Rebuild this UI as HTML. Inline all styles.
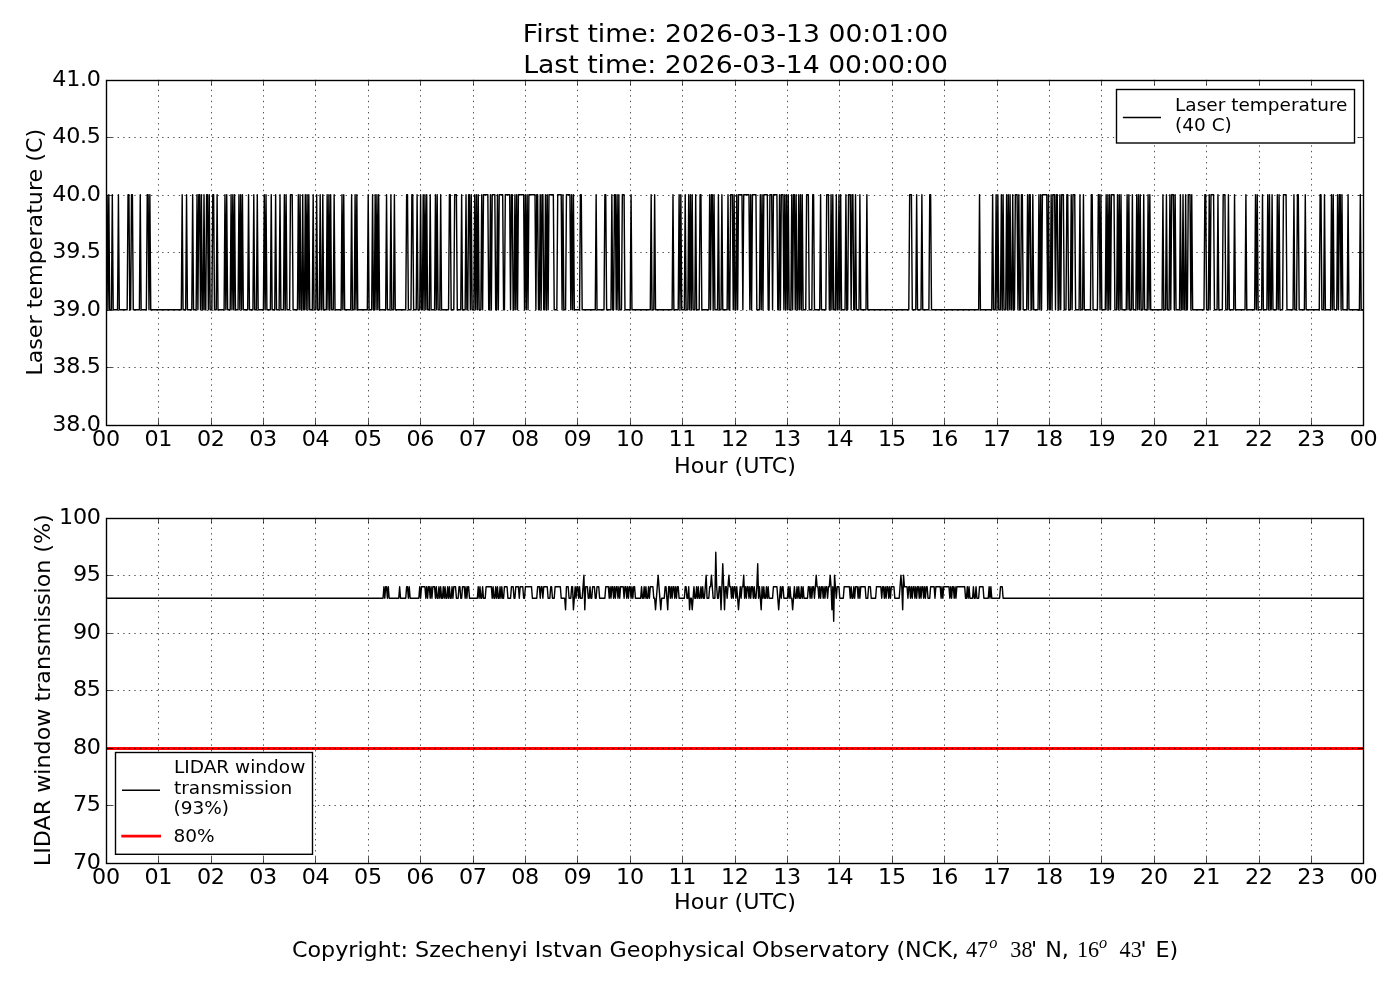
<!DOCTYPE html>
<html><head><meta charset="utf-8"><title>LIDAR status</title>
<style>
html,body{margin:0;padding:0;background:#fff;}
svg{display:block;}
text{font-family:"DejaVu Sans", "Liberation Sans", sans-serif;fill:#000;}
.tl{font-size:22.22px;letter-spacing:-0.3px;}
.lab{font-size:22.22px;}
.title{font-size:26.67px;}
.leg{font-size:18.52px;}
.grid{stroke:#000;stroke-width:0.69;stroke-dasharray:1.39 4.17;fill:none;}
.tick{stroke:#000;stroke-width:0.69;fill:none;}
.frame{stroke:#000;stroke-width:1.39;fill:none;}
.sig{stroke:#000;stroke-width:1.42;fill:none;stroke-linejoin:round;}
.legl{stroke:#000;stroke-width:1.39;fill:none;}
.red{stroke:#f00;stroke-width:2.78;fill:none;}
.legbox{stroke:#000;stroke-width:1.39;fill:#fff;}
.math{font-family:"Liberation Serif","DejaVu Serif",serif;}
</style></head><body>
<svg width="1400" height="1000" viewBox="0 0 1400 1000">
<rect width="1400" height="1000" fill="#fff"/>
<clipPath id="c1"><rect x="106.5" y="79.85" width="1257.0" height="344.85"/></clipPath>
<polyline class="sig" clip-path="url(#c1)" points="107.07,194.80 107.95,309.75 108.82,194.80 109.69,309.75 110.57,309.75 111.44,309.75 112.31,194.80 113.19,309.75 114.06,309.75 114.93,309.75 115.81,309.75 116.68,309.75 117.55,309.75 118.43,194.80 119.30,309.75 120.17,309.75 121.05,309.75 121.92,309.75 122.79,309.75 123.67,309.75 124.54,309.75 125.41,309.75 126.29,309.75 127.16,309.75 128.03,194.80 128.91,194.80 129.78,309.75 130.65,309.75 131.53,194.80 132.40,194.80 133.27,309.75 134.15,309.75 135.02,309.75 135.89,309.75 136.77,309.75 137.64,309.75 138.51,309.75 139.39,309.75 140.26,194.80 141.13,309.75 142.01,309.75 142.88,309.75 143.75,309.75 144.63,309.75 145.50,309.75 146.37,309.75 147.25,194.80 148.12,194.80 148.99,309.75 149.87,194.80 150.74,309.75 151.61,309.75 152.49,309.75 153.36,309.75 154.23,309.75 155.11,309.75 155.98,309.75 156.85,309.75 157.73,309.75 158.60,309.75 159.47,309.75 160.35,309.75 161.22,309.75 162.09,309.75 162.97,309.75 163.84,309.75 164.71,309.75 165.59,309.75 166.46,309.75 167.33,309.75 168.21,309.75 169.08,309.75 169.95,309.75 170.83,309.75 171.70,309.75 172.57,309.75 173.45,309.75 174.32,309.75 175.19,309.75 176.07,309.75 176.94,309.75 177.81,309.75 178.69,309.75 179.56,309.75 180.43,309.75 181.31,309.75 182.18,194.80 183.05,309.75 183.93,309.75 184.80,309.75 185.67,309.75 186.55,194.80 187.42,309.75 188.29,309.75 189.17,309.75 190.04,309.75 190.91,309.75 191.79,309.75 192.66,194.80 193.53,309.75 194.41,309.75 195.28,309.75 196.15,309.75 197.03,194.80 197.90,309.75 198.77,194.80 199.65,194.80 200.52,309.75 201.39,194.80 202.27,309.75 203.14,309.75 204.01,194.80 204.89,309.75 205.76,309.75 206.63,194.80 207.51,194.80 208.38,309.75 209.25,194.80 210.13,309.75 211.00,309.75 211.87,309.75 212.75,194.80 213.62,194.80 214.49,309.75 215.37,309.75 216.24,309.75 217.11,194.80 217.99,309.75 218.86,309.75 219.73,309.75 220.61,309.75 221.48,309.75 222.35,309.75 223.23,309.75 224.10,309.75 224.97,194.80 225.85,309.75 226.72,194.80 227.59,309.75 228.47,309.75 229.34,309.75 230.21,309.75 231.09,194.80 231.96,309.75 232.83,194.80 233.71,309.75 234.58,194.80 235.45,309.75 236.33,309.75 237.20,309.75 238.07,309.75 238.95,194.80 239.82,309.75 240.69,194.80 241.57,309.75 242.44,194.80 243.31,309.75 244.19,309.75 245.06,309.75 245.93,309.75 246.81,309.75 247.68,309.75 248.55,194.80 249.43,309.75 250.30,309.75 251.17,309.75 252.05,309.75 252.92,309.75 253.79,194.80 254.67,309.75 255.54,309.75 256.41,309.75 257.29,194.80 258.16,309.75 259.03,309.75 259.91,309.75 260.78,309.75 261.65,309.75 262.53,309.75 263.40,309.75 264.27,194.80 265.15,309.75 266.02,194.80 266.89,309.75 267.77,309.75 268.64,309.75 269.51,309.75 270.39,309.75 271.26,194.80 272.13,309.75 273.01,309.75 273.88,309.75 274.75,309.75 275.63,194.80 276.50,309.75 277.37,309.75 278.25,309.75 279.12,309.75 279.99,194.80 280.87,309.75 281.74,309.75 282.61,309.75 283.49,309.75 284.36,194.80 285.23,309.75 286.11,194.80 286.98,309.75 287.85,309.75 288.73,309.75 289.60,309.75 290.47,194.80 291.35,194.80 292.22,194.80 293.09,309.75 293.97,309.75 294.84,309.75 295.71,309.75 296.59,309.75 297.46,309.75 298.33,194.80 299.21,309.75 300.08,194.80 300.95,309.75 301.83,309.75 302.70,194.80 303.57,309.75 304.45,309.75 305.32,194.80 306.19,309.75 307.07,194.80 307.94,309.75 308.81,194.80 309.69,309.75 310.56,309.75 311.43,309.75 312.31,309.75 313.18,194.80 314.05,309.75 314.93,309.75 315.80,309.75 316.67,194.80 317.55,309.75 318.42,309.75 319.29,309.75 320.17,194.80 321.04,309.75 321.91,309.75 322.79,194.80 323.66,309.75 324.53,309.75 325.41,309.75 326.28,309.75 327.15,194.80 328.03,309.75 328.90,194.80 329.77,309.75 330.65,194.80 331.52,309.75 332.39,309.75 333.27,309.75 334.14,194.80 335.01,309.75 335.89,309.75 336.76,309.75 337.63,309.75 338.51,309.75 339.38,309.75 340.25,309.75 341.13,309.75 342.00,194.80 342.87,309.75 343.75,194.80 344.62,309.75 345.49,309.75 346.37,309.75 347.24,309.75 348.11,309.75 348.99,309.75 349.86,309.75 350.73,309.75 351.61,194.80 352.48,309.75 353.35,309.75 354.23,309.75 355.10,194.80 355.97,309.75 356.85,194.80 357.72,309.75 358.59,309.75 359.47,309.75 360.34,309.75 361.21,309.75 362.09,309.75 362.96,309.75 363.83,309.75 364.71,309.75 365.58,309.75 366.45,309.75 367.33,309.75 368.20,194.80 369.07,309.75 369.95,309.75 370.82,309.75 371.69,309.75 372.57,194.80 373.44,309.75 374.31,309.75 375.19,194.80 376.06,309.75 376.93,194.80 377.81,309.75 378.68,194.80 379.55,309.75 380.43,309.75 381.30,309.75 382.17,309.75 383.05,309.75 383.92,309.75 384.79,309.75 385.67,309.75 386.54,194.80 387.41,309.75 388.29,309.75 389.16,309.75 390.03,309.75 390.91,194.80 391.78,309.75 392.65,309.75 393.53,309.75 394.40,194.80 395.27,309.75 396.15,309.75 397.02,309.75 397.89,309.75 398.77,309.75 399.64,309.75 400.51,309.75 401.39,309.75 402.26,309.75 403.13,309.75 404.01,309.75 404.88,309.75 405.75,309.75 406.63,194.80 407.50,194.80 408.37,309.75 409.25,309.75 410.12,309.75 410.99,309.75 411.87,194.80 412.74,194.80 413.61,309.75 414.49,309.75 415.36,309.75 416.23,309.75 417.11,194.80 417.98,309.75 418.85,309.75 419.73,309.75 420.60,194.80 421.47,309.75 422.35,309.75 423.22,194.80 424.09,309.75 424.97,194.80 425.84,309.75 426.71,194.80 427.59,309.75 428.46,309.75 429.33,309.75 430.21,194.80 431.08,309.75 431.95,309.75 432.83,309.75 433.70,309.75 434.57,309.75 435.45,194.80 436.32,309.75 437.19,194.80 438.07,309.75 438.94,309.75 439.81,309.75 440.69,194.80 441.56,309.75 442.43,309.75 443.31,309.75 444.18,309.75 445.05,309.75 445.93,309.75 446.80,309.75 447.67,309.75 448.55,309.75 449.42,194.80 450.29,194.80 451.17,309.75 452.04,309.75 452.91,309.75 453.79,309.75 454.66,194.80 455.53,194.80 456.41,194.80 457.28,309.75 458.15,309.75 459.03,309.75 459.90,309.75 460.77,309.75 461.65,194.80 462.52,309.75 463.39,309.75 464.27,309.75 465.14,309.75 466.01,194.80 466.89,309.75 467.76,309.75 468.63,194.80 469.51,194.80 470.38,309.75 471.25,194.80 472.13,309.75 473.00,309.75 473.87,309.75 474.75,194.80 475.62,309.75 476.49,194.80 477.37,309.75 478.24,194.80 479.11,309.75 479.99,309.75 480.86,309.75 481.73,194.80 482.61,309.75 483.48,194.80 484.35,194.80 485.23,194.80 486.10,194.80 486.97,194.80 487.85,194.80 488.72,309.75 489.59,309.75 490.47,194.80 491.34,309.75 492.21,194.80 493.09,194.80 493.96,194.80 494.83,194.80 495.71,309.75 496.58,309.75 497.45,194.80 498.33,309.75 499.20,194.80 500.07,194.80 500.95,194.80 501.82,194.80 502.69,194.80 503.57,309.75 504.44,309.75 505.31,194.80 506.19,194.80 507.06,194.80 507.93,194.80 508.81,194.80 509.68,194.80 510.55,309.75 511.43,194.80 512.30,194.80 513.17,309.75 514.05,309.75 514.92,194.80 515.79,309.75 516.67,194.80 517.54,309.75 518.41,194.80 519.29,194.80 520.16,194.80 521.03,194.80 521.91,194.80 522.78,194.80 523.65,194.80 524.53,309.75 525.40,194.80 526.27,309.75 527.15,194.80 528.02,309.75 528.89,194.80 529.77,194.80 530.64,194.80 531.51,194.80 532.39,194.80 533.26,194.80 534.13,194.80 535.01,194.80 535.88,309.75 536.75,194.80 537.63,194.80 538.50,309.75 539.37,309.75 540.25,194.80 541.12,309.75 541.99,194.80 542.87,194.80 543.74,309.75 544.61,309.75 545.49,194.80 546.36,309.75 547.23,194.80 548.11,309.75 548.98,194.80 549.85,194.80 550.73,194.80 551.60,194.80 552.47,194.80 553.35,194.80 554.22,309.75 555.09,309.75 555.97,309.75 556.84,309.75 557.71,194.80 558.59,194.80 559.46,194.80 560.33,194.80 561.21,194.80 562.08,309.75 562.95,194.80 563.83,309.75 564.70,309.75 565.57,309.75 566.45,194.80 567.32,194.80 568.19,194.80 569.07,194.80 569.94,194.80 570.81,309.75 571.69,194.80 572.56,309.75 573.43,194.80 574.31,309.75 575.18,309.75 576.05,309.75 576.93,309.75 577.80,309.75 578.67,309.75 579.55,309.75 580.42,194.80 581.29,194.80 582.17,309.75 583.04,309.75 583.91,309.75 584.79,309.75 585.66,309.75 586.53,309.75 587.41,309.75 588.28,309.75 589.15,309.75 590.03,309.75 590.90,309.75 591.77,309.75 592.65,309.75 593.52,309.75 594.39,309.75 595.27,309.75 596.14,194.80 597.01,309.75 597.89,309.75 598.76,309.75 599.63,309.75 600.51,309.75 601.38,309.75 602.25,309.75 603.13,309.75 604.00,309.75 604.87,194.80 605.75,194.80 606.62,309.75 607.49,309.75 608.37,309.75 609.24,309.75 610.11,309.75 610.99,309.75 611.86,194.80 612.73,309.75 613.61,309.75 614.48,194.80 615.35,194.80 616.23,309.75 617.10,194.80 617.97,309.75 618.85,194.80 619.72,309.75 620.59,309.75 621.47,309.75 622.34,194.80 623.21,194.80 624.09,194.80 624.96,309.75 625.83,309.75 626.71,309.75 627.58,309.75 628.45,309.75 629.33,309.75 630.20,309.75 631.07,194.80 631.95,309.75 632.82,309.75 633.69,309.75 634.57,309.75 635.44,309.75 636.31,309.75 637.19,309.75 638.06,309.75 638.93,309.75 639.81,309.75 640.68,309.75 641.55,309.75 642.43,309.75 643.30,309.75 644.17,309.75 645.05,309.75 645.92,309.75 646.79,309.75 647.67,309.75 648.54,309.75 649.41,309.75 650.29,309.75 651.16,194.80 652.03,309.75 652.91,309.75 653.78,309.75 654.65,194.80 655.53,309.75 656.40,309.75 657.27,309.75 658.15,309.75 659.02,309.75 659.89,309.75 660.77,309.75 661.64,309.75 662.51,309.75 663.39,309.75 664.26,309.75 665.13,309.75 666.01,309.75 666.88,309.75 667.75,309.75 668.63,309.75 669.50,309.75 670.37,309.75 671.25,309.75 672.12,309.75 672.99,194.80 673.87,309.75 674.74,309.75 675.61,309.75 676.49,309.75 677.36,309.75 678.23,309.75 679.11,194.80 679.98,309.75 680.85,194.80 681.73,309.75 682.60,309.75 683.47,309.75 684.35,309.75 685.22,194.80 686.09,309.75 686.97,309.75 687.84,309.75 688.71,194.80 689.59,309.75 690.46,194.80 691.33,309.75 692.21,194.80 693.08,309.75 693.95,309.75 694.83,309.75 695.70,194.80 696.57,309.75 697.45,309.75 698.32,309.75 699.19,309.75 700.07,194.80 700.94,194.80 701.81,309.75 702.69,309.75 703.56,309.75 704.43,309.75 705.31,309.75 706.18,309.75 707.05,309.75 707.93,309.75 708.80,309.75 709.67,194.80 710.55,309.75 711.42,194.80 712.29,194.80 713.17,309.75 714.04,194.80 714.91,309.75 715.79,309.75 716.66,309.75 717.53,309.75 718.41,194.80 719.28,309.75 720.15,309.75 721.03,309.75 721.90,194.80 722.77,309.75 723.65,309.75 724.52,309.75 725.39,309.75 726.27,309.75 727.14,309.75 728.01,194.80 728.89,309.75 729.76,309.75 730.63,194.80 731.51,194.80 732.38,194.80 733.25,309.75 734.13,194.80 735.00,309.75 735.87,309.75 736.75,194.80 737.62,309.75 738.49,194.80 739.37,194.80 740.24,194.80 741.11,194.80 741.99,194.80 742.86,309.75 743.73,194.80 744.61,194.80 745.48,194.80 746.35,194.80 747.23,194.80 748.10,194.80 748.97,194.80 749.85,309.75 750.72,194.80 751.59,309.75 752.47,194.80 753.34,194.80 754.21,194.80 755.09,194.80 755.96,194.80 756.83,309.75 757.71,309.75 758.58,309.75 759.45,309.75 760.33,194.80 761.20,309.75 762.07,194.80 762.95,309.75 763.82,194.80 764.69,194.80 765.57,194.80 766.44,194.80 767.31,194.80 768.19,309.75 769.06,309.75 769.93,194.80 770.81,194.80 771.68,194.80 772.55,309.75 773.43,194.80 774.30,194.80 775.17,194.80 776.05,194.80 776.92,194.80 777.79,309.75 778.67,309.75 779.54,194.80 780.41,309.75 781.29,194.80 782.16,194.80 783.03,194.80 783.91,309.75 784.78,194.80 785.65,309.75 786.53,194.80 787.40,309.75 788.27,194.80 789.15,309.75 790.02,309.75 790.89,309.75 791.77,194.80 792.64,309.75 793.51,194.80 794.39,194.80 795.26,309.75 796.13,194.80 797.01,309.75 797.88,309.75 798.75,194.80 799.63,309.75 800.50,194.80 801.37,309.75 802.25,194.80 803.12,309.75 803.99,309.75 804.87,309.75 805.74,309.75 806.61,194.80 807.49,194.80 808.36,194.80 809.23,309.75 810.11,309.75 810.98,309.75 811.85,309.75 812.73,194.80 813.60,194.80 814.47,309.75 815.35,309.75 816.22,309.75 817.09,309.75 817.97,309.75 818.84,309.75 819.71,309.75 820.59,194.80 821.46,309.75 822.33,309.75 823.21,309.75 824.08,309.75 824.95,309.75 825.83,309.75 826.70,194.80 827.57,194.80 828.45,194.80 829.32,309.75 830.19,309.75 831.07,194.80 831.94,309.75 832.81,194.80 833.69,309.75 834.56,309.75 835.43,309.75 836.31,194.80 837.18,309.75 838.05,309.75 838.93,194.80 839.80,309.75 840.67,194.80 841.55,309.75 842.42,309.75 843.29,309.75 844.17,309.75 845.04,309.75 845.91,194.80 846.79,309.75 847.66,309.75 848.53,194.80 849.41,194.80 850.28,194.80 851.15,309.75 852.03,194.80 852.90,194.80 853.77,309.75 854.65,309.75 855.52,194.80 856.39,309.75 857.27,309.75 858.14,309.75 859.01,309.75 859.89,194.80 860.76,309.75 861.63,309.75 862.51,309.75 863.38,309.75 864.25,309.75 865.13,309.75 866.00,309.75 866.87,194.80 867.75,309.75 868.62,309.75 869.49,309.75 870.37,309.75 871.24,309.75 872.11,309.75 872.99,309.75 873.86,309.75 874.73,309.75 875.61,309.75 876.48,309.75 877.35,309.75 878.23,309.75 879.10,309.75 879.97,309.75 880.85,309.75 881.72,309.75 882.59,309.75 883.47,309.75 884.34,309.75 885.21,309.75 886.09,309.75 886.96,309.75 887.83,309.75 888.71,309.75 889.58,309.75 890.45,309.75 891.33,309.75 892.20,309.75 893.07,309.75 893.95,309.75 894.82,309.75 895.69,309.75 896.57,309.75 897.44,309.75 898.31,309.75 899.19,309.75 900.06,309.75 900.93,309.75 901.81,309.75 902.68,309.75 903.55,309.75 904.43,309.75 905.30,309.75 906.17,309.75 907.05,309.75 907.92,309.75 908.79,309.75 909.67,194.80 910.54,194.80 911.41,194.80 912.29,309.75 913.16,309.75 914.03,309.75 914.91,309.75 915.78,309.75 916.65,194.80 917.53,309.75 918.40,309.75 919.27,309.75 920.15,309.75 921.02,309.75 921.89,194.80 922.77,309.75 923.64,309.75 924.51,309.75 925.39,309.75 926.26,309.75 927.13,309.75 928.01,309.75 928.88,309.75 929.75,194.80 930.63,194.80 931.50,309.75 932.37,309.75 933.25,309.75 934.12,309.75 934.99,309.75 935.87,309.75 936.74,309.75 937.61,309.75 938.49,309.75 939.36,309.75 940.23,309.75 941.11,309.75 941.98,309.75 942.85,309.75 943.73,309.75 944.60,309.75 945.47,309.75 946.35,309.75 947.22,309.75 948.09,309.75 948.97,309.75 949.84,309.75 950.71,309.75 951.59,309.75 952.46,309.75 953.33,309.75 954.21,309.75 955.08,309.75 955.95,309.75 956.83,309.75 957.70,309.75 958.57,309.75 959.45,309.75 960.32,309.75 961.19,309.75 962.07,309.75 962.94,309.75 963.81,309.75 964.69,309.75 965.56,309.75 966.43,309.75 967.31,309.75 968.18,309.75 969.05,309.75 969.93,309.75 970.80,309.75 971.67,309.75 972.55,309.75 973.42,309.75 974.29,309.75 975.17,309.75 976.04,309.75 976.91,309.75 977.79,309.75 978.66,309.75 979.53,194.80 980.41,309.75 981.28,309.75 982.15,309.75 983.03,309.75 983.90,309.75 984.77,309.75 985.65,309.75 986.52,309.75 987.39,309.75 988.27,309.75 989.14,309.75 990.01,309.75 990.89,309.75 991.76,309.75 992.63,194.80 993.51,309.75 994.38,309.75 995.25,309.75 996.13,194.80 997.00,309.75 997.87,194.80 998.75,309.75 999.62,309.75 1000.49,309.75 1001.37,194.80 1002.24,309.75 1003.11,194.80 1003.99,309.75 1004.86,309.75 1005.73,309.75 1006.61,194.80 1007.48,309.75 1008.35,194.80 1009.23,309.75 1010.10,194.80 1010.97,309.75 1011.85,309.75 1012.72,194.80 1013.59,309.75 1014.47,309.75 1015.34,194.80 1016.21,194.80 1017.09,194.80 1017.96,309.75 1018.83,194.80 1019.71,309.75 1020.58,309.75 1021.45,194.80 1022.33,194.80 1023.20,309.75 1024.07,309.75 1024.95,309.75 1025.82,309.75 1026.69,309.75 1027.57,194.80 1028.44,309.75 1029.31,194.80 1030.19,194.80 1031.06,309.75 1031.93,309.75 1032.81,194.80 1033.68,309.75 1034.55,309.75 1035.43,309.75 1036.30,309.75 1037.17,309.75 1038.05,309.75 1038.92,194.80 1039.79,309.75 1040.67,194.80 1041.54,309.75 1042.41,194.80 1043.29,194.80 1044.16,194.80 1045.03,194.80 1045.91,194.80 1046.78,194.80 1047.65,309.75 1048.53,194.80 1049.40,309.75 1050.27,309.75 1051.15,194.80 1052.02,309.75 1052.89,194.80 1053.77,194.80 1054.64,194.80 1055.51,309.75 1056.39,194.80 1057.26,194.80 1058.13,309.75 1059.01,309.75 1059.88,194.80 1060.75,309.75 1061.63,194.80 1062.50,194.80 1063.37,194.80 1064.25,309.75 1065.12,309.75 1065.99,309.75 1066.87,194.80 1067.74,194.80 1068.61,309.75 1069.49,309.75 1070.36,309.75 1071.23,194.80 1072.11,309.75 1072.98,194.80 1073.85,194.80 1074.73,194.80 1075.60,309.75 1076.47,309.75 1077.35,309.75 1078.22,309.75 1079.09,309.75 1079.97,194.80 1080.84,309.75 1081.71,309.75 1082.59,309.75 1083.46,194.80 1084.33,309.75 1085.21,309.75 1086.08,309.75 1086.95,309.75 1087.83,309.75 1088.70,309.75 1089.57,309.75 1090.45,309.75 1091.32,194.80 1092.19,194.80 1093.07,309.75 1093.94,309.75 1094.81,309.75 1095.69,309.75 1096.56,309.75 1097.43,309.75 1098.31,194.80 1099.18,194.80 1100.05,309.75 1100.93,194.80 1101.80,309.75 1102.67,309.75 1103.55,309.75 1104.42,309.75 1105.29,309.75 1106.17,194.80 1107.04,309.75 1107.91,194.80 1108.79,309.75 1109.66,194.80 1110.53,309.75 1111.41,194.80 1112.28,194.80 1113.15,194.80 1114.03,194.80 1114.90,309.75 1115.77,309.75 1116.65,309.75 1117.52,194.80 1118.39,309.75 1119.27,194.80 1120.14,309.75 1121.01,194.80 1121.89,309.75 1122.76,309.75 1123.63,309.75 1124.51,309.75 1125.38,309.75 1126.25,309.75 1127.13,194.80 1128.00,309.75 1128.87,194.80 1129.75,309.75 1130.62,309.75 1131.49,309.75 1132.37,194.80 1133.24,309.75 1134.11,309.75 1134.99,309.75 1135.86,309.75 1136.73,194.80 1137.61,309.75 1138.48,194.80 1139.35,309.75 1140.23,194.80 1141.10,309.75 1141.97,309.75 1142.85,309.75 1143.72,194.80 1144.59,309.75 1145.47,309.75 1146.34,309.75 1147.21,309.75 1148.09,194.80 1148.96,309.75 1149.83,194.80 1150.71,309.75 1151.58,309.75 1152.45,309.75 1153.33,309.75 1154.20,309.75 1155.07,309.75 1155.95,309.75 1156.82,309.75 1157.69,309.75 1158.57,309.75 1159.44,309.75 1160.31,309.75 1161.19,309.75 1162.06,309.75 1162.93,194.80 1163.81,309.75 1164.68,309.75 1165.55,309.75 1166.43,194.80 1167.30,309.75 1168.17,309.75 1169.05,309.75 1169.92,194.80 1170.79,309.75 1171.67,194.80 1172.54,194.80 1173.41,194.80 1174.29,309.75 1175.16,194.80 1176.03,309.75 1176.91,309.75 1177.78,309.75 1178.65,309.75 1179.53,309.75 1180.40,194.80 1181.27,309.75 1182.15,309.75 1183.02,194.80 1183.89,309.75 1184.77,309.75 1185.64,194.80 1186.51,309.75 1187.39,309.75 1188.26,194.80 1189.13,194.80 1190.01,194.80 1190.88,309.75 1191.75,194.80 1192.63,309.75 1193.50,309.75 1194.37,309.75 1195.25,309.75 1196.12,309.75 1196.99,309.75 1197.87,309.75 1198.74,309.75 1199.61,309.75 1200.49,309.75 1201.36,309.75 1202.23,309.75 1203.11,309.75 1203.98,309.75 1204.85,194.80 1205.73,194.80 1206.60,309.75 1207.47,309.75 1208.35,309.75 1209.22,194.80 1210.09,309.75 1210.97,194.80 1211.84,194.80 1212.71,194.80 1213.59,194.80 1214.46,309.75 1215.33,309.75 1216.21,309.75 1217.08,309.75 1217.95,194.80 1218.83,309.75 1219.70,309.75 1220.57,309.75 1221.45,309.75 1222.32,309.75 1223.19,194.80 1224.07,194.80 1224.94,194.80 1225.81,309.75 1226.69,309.75 1227.56,309.75 1228.43,194.80 1229.31,309.75 1230.18,309.75 1231.05,309.75 1231.93,309.75 1232.80,309.75 1233.67,309.75 1234.55,194.80 1235.42,309.75 1236.29,309.75 1237.17,309.75 1238.04,309.75 1238.91,309.75 1239.79,309.75 1240.66,309.75 1241.53,309.75 1242.41,309.75 1243.28,309.75 1244.15,309.75 1245.03,309.75 1245.90,194.80 1246.77,309.75 1247.65,309.75 1248.52,309.75 1249.39,309.75 1250.27,309.75 1251.14,309.75 1252.01,309.75 1252.89,309.75 1253.76,309.75 1254.63,309.75 1255.51,194.80 1256.38,309.75 1257.25,194.80 1258.13,309.75 1259.00,309.75 1259.87,309.75 1260.75,309.75 1261.62,309.75 1262.49,194.80 1263.37,309.75 1264.24,309.75 1265.11,309.75 1265.99,309.75 1266.86,309.75 1267.73,194.80 1268.61,309.75 1269.48,194.80 1270.35,309.75 1271.23,309.75 1272.10,194.80 1272.97,309.75 1273.85,309.75 1274.72,309.75 1275.59,309.75 1276.47,309.75 1277.34,194.80 1278.21,309.75 1279.09,194.80 1279.96,309.75 1280.83,309.75 1281.71,309.75 1282.58,309.75 1283.45,194.80 1284.33,194.80 1285.20,194.80 1286.07,194.80 1286.95,309.75 1287.82,309.75 1288.69,309.75 1289.57,309.75 1290.44,309.75 1291.31,309.75 1292.19,309.75 1293.06,309.75 1293.93,194.80 1294.81,309.75 1295.68,309.75 1296.55,309.75 1297.43,194.80 1298.30,194.80 1299.17,309.75 1300.05,309.75 1300.92,309.75 1301.79,309.75 1302.67,309.75 1303.54,309.75 1304.41,309.75 1305.29,194.80 1306.16,309.75 1307.03,309.75 1307.91,309.75 1308.78,309.75 1309.65,309.75 1310.53,309.75 1311.40,309.75 1312.27,309.75 1313.15,309.75 1314.02,309.75 1314.89,309.75 1315.77,309.75 1316.64,309.75 1317.51,309.75 1318.39,309.75 1319.26,309.75 1320.13,194.80 1321.01,194.80 1321.88,309.75 1322.75,309.75 1323.63,309.75 1324.50,194.80 1325.37,309.75 1326.25,309.75 1327.12,309.75 1327.99,309.75 1328.87,309.75 1329.74,309.75 1330.61,309.75 1331.49,194.80 1332.36,309.75 1333.23,194.80 1334.11,309.75 1334.98,309.75 1335.85,309.75 1336.73,309.75 1337.60,194.80 1338.47,309.75 1339.35,194.80 1340.22,194.80 1341.09,309.75 1341.97,194.80 1342.84,309.75 1343.71,309.75 1344.59,309.75 1345.46,309.75 1346.33,309.75 1347.21,309.75 1348.08,194.80 1348.95,309.75 1349.83,309.75 1350.70,309.75 1351.57,309.75 1352.45,309.75 1353.32,309.75 1354.19,309.75 1355.07,309.75 1355.94,309.75 1356.81,309.75 1357.69,309.75 1358.56,309.75 1359.43,309.75 1360.31,194.80 1361.18,309.75 1362.05,309.75 1362.93,309.75 1363.80,309.75"/>
<path class="grid" d="M158.5 424.7V79.85M211.5 424.7V79.85M263.5 424.7V79.85M315.5 424.7V79.85M368.5 424.7V79.85M420.5 424.7V79.85M473.5 424.7V79.85M525.5 424.7V79.85M577.5 424.7V79.85M630.5 424.7V79.85M682.5 424.7V79.85M735.5 424.7V79.85M787.5 424.7V79.85M839.5 424.7V79.85M892.5 424.7V79.85M944.5 424.7V79.85M997.5 424.7V79.85M1049.5 424.7V79.85M1101.5 424.7V79.85M1154.5 424.7V79.85M1206.5 424.7V79.85M1259.5 424.7V79.85M1311.5 424.7V79.85M106.5 367.5H1363.5M106.5 310.5H1363.5M106.5 252.5H1363.5M106.5 195.5H1363.5M106.5 137.5H1363.5"/>
<path class="tick" d="M106.5 424.7v-5.56M106.5 79.85v5.56M158.5 424.7v-5.56M158.5 79.85v5.56M211.5 424.7v-5.56M211.5 79.85v5.56M263.5 424.7v-5.56M263.5 79.85v5.56M315.5 424.7v-5.56M315.5 79.85v5.56M368.5 424.7v-5.56M368.5 79.85v5.56M420.5 424.7v-5.56M420.5 79.85v5.56M473.5 424.7v-5.56M473.5 79.85v5.56M525.5 424.7v-5.56M525.5 79.85v5.56M577.5 424.7v-5.56M577.5 79.85v5.56M630.5 424.7v-5.56M630.5 79.85v5.56M682.5 424.7v-5.56M682.5 79.85v5.56M735.5 424.7v-5.56M735.5 79.85v5.56M787.5 424.7v-5.56M787.5 79.85v5.56M839.5 424.7v-5.56M839.5 79.85v5.56M892.5 424.7v-5.56M892.5 79.85v5.56M944.5 424.7v-5.56M944.5 79.85v5.56M997.5 424.7v-5.56M997.5 79.85v5.56M1049.5 424.7v-5.56M1049.5 79.85v5.56M1101.5 424.7v-5.56M1101.5 79.85v5.56M1154.5 424.7v-5.56M1154.5 79.85v5.56M1206.5 424.7v-5.56M1206.5 79.85v5.56M1259.5 424.7v-5.56M1259.5 79.85v5.56M1311.5 424.7v-5.56M1311.5 79.85v5.56M1363.5 424.7v-5.56M1363.5 79.85v5.56M106.5 425.5h5.56M1363.5 425.5h-5.56M106.5 367.5h5.56M1363.5 367.5h-5.56M106.5 310.5h5.56M1363.5 310.5h-5.56M106.5 252.5h5.56M1363.5 252.5h-5.56M106.5 195.5h5.56M1363.5 195.5h-5.56M106.5 137.5h5.56M1363.5 137.5h-5.56M106.5 80.5h5.56M1363.5 80.5h-5.56"/>
<rect class="frame" x="106.5" y="80.5" width="1257.0" height="345"/>
<text class="tl" transform="translate(105.90,446.20) scale(1,0.96)" text-anchor="middle">00</text>
<text class="tl" transform="translate(158.30,446.20) scale(1,0.96)" text-anchor="middle">01</text>
<text class="tl" transform="translate(210.70,446.20) scale(1,0.96)" text-anchor="middle">02</text>
<text class="tl" transform="translate(263.10,446.20) scale(1,0.96)" text-anchor="middle">03</text>
<text class="tl" transform="translate(315.50,446.20) scale(1,0.96)" text-anchor="middle">04</text>
<text class="tl" transform="translate(367.90,446.20) scale(1,0.96)" text-anchor="middle">05</text>
<text class="tl" transform="translate(420.30,446.20) scale(1,0.96)" text-anchor="middle">06</text>
<text class="tl" transform="translate(472.70,446.20) scale(1,0.96)" text-anchor="middle">07</text>
<text class="tl" transform="translate(525.10,446.20) scale(1,0.96)" text-anchor="middle">08</text>
<text class="tl" transform="translate(577.50,446.20) scale(1,0.96)" text-anchor="middle">09</text>
<text class="tl" transform="translate(629.90,446.20) scale(1,0.96)" text-anchor="middle">10</text>
<text class="tl" transform="translate(682.30,446.20) scale(1,0.96)" text-anchor="middle">11</text>
<text class="tl" transform="translate(734.70,446.20) scale(1,0.96)" text-anchor="middle">12</text>
<text class="tl" transform="translate(787.10,446.20) scale(1,0.96)" text-anchor="middle">13</text>
<text class="tl" transform="translate(839.50,446.20) scale(1,0.96)" text-anchor="middle">14</text>
<text class="tl" transform="translate(891.90,446.20) scale(1,0.96)" text-anchor="middle">15</text>
<text class="tl" transform="translate(944.30,446.20) scale(1,0.96)" text-anchor="middle">16</text>
<text class="tl" transform="translate(996.70,446.20) scale(1,0.96)" text-anchor="middle">17</text>
<text class="tl" transform="translate(1049.10,446.20) scale(1,0.96)" text-anchor="middle">18</text>
<text class="tl" transform="translate(1101.50,446.20) scale(1,0.96)" text-anchor="middle">19</text>
<text class="tl" transform="translate(1153.90,446.20) scale(1,0.96)" text-anchor="middle">20</text>
<text class="tl" transform="translate(1206.30,446.20) scale(1,0.96)" text-anchor="middle">21</text>
<text class="tl" transform="translate(1258.70,446.20) scale(1,0.96)" text-anchor="middle">22</text>
<text class="tl" transform="translate(1311.10,446.20) scale(1,0.96)" text-anchor="middle">23</text>
<text class="tl" transform="translate(1363.50,446.20) scale(1,0.96)" text-anchor="middle">00</text>
<text class="tl" transform="translate(100.6,431.05) scale(1,0.96)" text-anchor="end">38.0</text>
<text class="tl" transform="translate(100.6,373.05) scale(1,0.96)" text-anchor="end">38.5</text>
<text class="tl" transform="translate(100.6,316.05) scale(1,0.96)" text-anchor="end">39.0</text>
<text class="tl" transform="translate(100.6,258.05) scale(1,0.96)" text-anchor="end">39.5</text>
<text class="tl" transform="translate(100.6,201.05) scale(1,0.96)" text-anchor="end">40.0</text>
<text class="tl" transform="translate(100.6,143.05) scale(1,0.96)" text-anchor="end">40.5</text>
<text class="tl" transform="translate(100.6,86.05) scale(1,0.96)" text-anchor="end">41.0</text>
<clipPath id="c2"><rect x="106.5" y="517.85" width="1257.0" height="344.75"/></clipPath>
<polyline class="sig" clip-path="url(#c2)" points="107.07,598.29 107.95,598.29 108.82,598.29 109.69,598.29 110.57,598.29 111.44,598.29 112.31,598.29 113.19,598.29 114.06,598.29 114.93,598.29 115.81,598.29 116.68,598.29 117.55,598.29 118.43,598.29 119.30,598.29 120.17,598.29 121.05,598.29 121.92,598.29 122.79,598.29 123.67,598.29 124.54,598.29 125.41,598.29 126.29,598.29 127.16,598.29 128.03,598.29 128.91,598.29 129.78,598.29 130.65,598.29 131.53,598.29 132.40,598.29 133.27,598.29 134.15,598.29 135.02,598.29 135.89,598.29 136.77,598.29 137.64,598.29 138.51,598.29 139.39,598.29 140.26,598.29 141.13,598.29 142.01,598.29 142.88,598.29 143.75,598.29 144.63,598.29 145.50,598.29 146.37,598.29 147.25,598.29 148.12,598.29 148.99,598.29 149.87,598.29 150.74,598.29 151.61,598.29 152.49,598.29 153.36,598.29 154.23,598.29 155.11,598.29 155.98,598.29 156.85,598.29 157.73,598.29 158.60,598.29 159.47,598.29 160.35,598.29 161.22,598.29 162.09,598.29 162.97,598.29 163.84,598.29 164.71,598.29 165.59,598.29 166.46,598.29 167.33,598.29 168.21,598.29 169.08,598.29 169.95,598.29 170.83,598.29 171.70,598.29 172.57,598.29 173.45,598.29 174.32,598.29 175.19,598.29 176.07,598.29 176.94,598.29 177.81,598.29 178.69,598.29 179.56,598.29 180.43,598.29 181.31,598.29 182.18,598.29 183.05,598.29 183.93,598.29 184.80,598.29 185.67,598.29 186.55,598.29 187.42,598.29 188.29,598.29 189.17,598.29 190.04,598.29 190.91,598.29 191.79,598.29 192.66,598.29 193.53,598.29 194.41,598.29 195.28,598.29 196.15,598.29 197.03,598.29 197.90,598.29 198.77,598.29 199.65,598.29 200.52,598.29 201.39,598.29 202.27,598.29 203.14,598.29 204.01,598.29 204.89,598.29 205.76,598.29 206.63,598.29 207.51,598.29 208.38,598.29 209.25,598.29 210.13,598.29 211.00,598.29 211.87,598.29 212.75,598.29 213.62,598.29 214.49,598.29 215.37,598.29 216.24,598.29 217.11,598.29 217.99,598.29 218.86,598.29 219.73,598.29 220.61,598.29 221.48,598.29 222.35,598.29 223.23,598.29 224.10,598.29 224.97,598.29 225.85,598.29 226.72,598.29 227.59,598.29 228.47,598.29 229.34,598.29 230.21,598.29 231.09,598.29 231.96,598.29 232.83,598.29 233.71,598.29 234.58,598.29 235.45,598.29 236.33,598.29 237.20,598.29 238.07,598.29 238.95,598.29 239.82,598.29 240.69,598.29 241.57,598.29 242.44,598.29 243.31,598.29 244.19,598.29 245.06,598.29 245.93,598.29 246.81,598.29 247.68,598.29 248.55,598.29 249.43,598.29 250.30,598.29 251.17,598.29 252.05,598.29 252.92,598.29 253.79,598.29 254.67,598.29 255.54,598.29 256.41,598.29 257.29,598.29 258.16,598.29 259.03,598.29 259.91,598.29 260.78,598.29 261.65,598.29 262.53,598.29 263.40,598.29 264.27,598.29 265.15,598.29 266.02,598.29 266.89,598.29 267.77,598.29 268.64,598.29 269.51,598.29 270.39,598.29 271.26,598.29 272.13,598.29 273.01,598.29 273.88,598.29 274.75,598.29 275.63,598.29 276.50,598.29 277.37,598.29 278.25,598.29 279.12,598.29 279.99,598.29 280.87,598.29 281.74,598.29 282.61,598.29 283.49,598.29 284.36,598.29 285.23,598.29 286.11,598.29 286.98,598.29 287.85,598.29 288.73,598.29 289.60,598.29 290.47,598.29 291.35,598.29 292.22,598.29 293.09,598.29 293.97,598.29 294.84,598.29 295.71,598.29 296.59,598.29 297.46,598.29 298.33,598.29 299.21,598.29 300.08,598.29 300.95,598.29 301.83,598.29 302.70,598.29 303.57,598.29 304.45,598.29 305.32,598.29 306.19,598.29 307.07,598.29 307.94,598.29 308.81,598.29 309.69,598.29 310.56,598.29 311.43,598.29 312.31,598.29 313.18,598.29 314.05,598.29 314.93,598.29 315.80,598.29 316.67,598.29 317.55,598.29 318.42,598.29 319.29,598.29 320.17,598.29 321.04,598.29 321.91,598.29 322.79,598.29 323.66,598.29 324.53,598.29 325.41,598.29 326.28,598.29 327.15,598.29 328.03,598.29 328.90,598.29 329.77,598.29 330.65,598.29 331.52,598.29 332.39,598.29 333.27,598.29 334.14,598.29 335.01,598.29 335.89,598.29 336.76,598.29 337.63,598.29 338.51,598.29 339.38,598.29 340.25,598.29 341.13,598.29 342.00,598.29 342.87,598.29 343.75,598.29 344.62,598.29 345.49,598.29 346.37,598.29 347.24,598.29 348.11,598.29 348.99,598.29 349.86,598.29 350.73,598.29 351.61,598.29 352.48,598.29 353.35,598.29 354.23,598.29 355.10,598.29 355.97,598.29 356.85,598.29 357.72,598.29 358.59,598.29 359.47,598.29 360.34,598.29 361.21,598.29 362.09,598.29 362.96,598.29 363.83,598.29 364.71,598.29 365.58,598.29 366.45,598.29 367.33,598.29 368.20,598.29 369.07,598.29 369.95,598.29 370.82,598.29 371.69,598.29 372.57,598.29 373.44,598.29 374.31,598.29 375.19,598.29 376.06,598.29 376.93,598.29 377.81,598.29 378.68,598.29 379.55,598.29 380.43,598.29 381.30,598.29 382.17,598.29 383.05,598.29 383.92,586.80 384.79,598.29 385.67,586.80 386.54,586.80 387.41,598.29 388.29,586.80 389.16,598.29 390.03,598.29 390.91,598.29 391.78,598.29 392.65,598.29 393.53,598.29 394.40,598.29 395.27,598.29 396.15,598.29 397.02,598.29 397.89,598.29 398.77,598.29 399.64,586.80 400.51,598.29 401.39,598.29 402.26,598.29 403.13,598.29 404.01,598.29 404.88,598.29 405.75,598.29 406.63,586.80 407.50,586.80 408.37,598.29 409.25,586.80 410.12,598.29 410.99,598.29 411.87,598.29 412.74,598.29 413.61,598.29 414.49,598.29 415.36,598.29 416.23,598.29 417.11,598.29 417.98,598.29 418.85,598.29 419.73,586.80 420.60,598.29 421.47,586.80 422.35,586.80 423.22,586.80 424.09,586.80 424.97,586.80 425.84,598.29 426.71,586.80 427.59,598.29 428.46,586.80 429.33,586.80 430.21,598.29 431.08,586.80 431.95,598.29 432.83,586.80 433.70,586.80 434.57,586.80 435.45,598.29 436.32,586.80 437.19,598.29 438.07,598.29 438.94,586.80 439.81,598.29 440.69,586.80 441.56,598.29 442.43,598.29 443.31,586.80 444.18,598.29 445.05,586.80 445.93,598.29 446.80,598.29 447.67,586.80 448.55,598.29 449.42,586.80 450.29,598.29 451.17,598.29 452.04,586.80 452.91,598.29 453.79,586.80 454.66,586.80 455.53,586.80 456.41,598.29 457.28,598.29 458.15,598.29 459.03,586.80 459.90,586.80 460.77,598.29 461.65,598.29 462.52,586.80 463.39,586.80 464.27,586.80 465.14,598.29 466.01,586.80 466.89,598.29 467.76,586.80 468.63,586.80 469.51,598.29 470.38,598.29 471.25,598.29 472.13,598.29 473.00,598.29 473.87,598.29 474.75,598.29 475.62,598.29 476.49,598.29 477.37,598.29 478.24,586.80 479.11,598.29 479.99,586.80 480.86,598.29 481.73,598.29 482.61,586.80 483.48,598.29 484.35,598.29 485.23,598.29 486.10,586.80 486.97,586.80 487.85,586.80 488.72,586.80 489.59,586.80 490.47,586.80 491.34,586.80 492.21,598.29 493.09,586.80 493.96,598.29 494.83,598.29 495.71,586.80 496.58,598.29 497.45,586.80 498.33,598.29 499.20,598.29 500.07,586.80 500.95,598.29 501.82,586.80 502.69,598.29 503.57,598.29 504.44,586.80 505.31,586.80 506.19,586.80 507.06,586.80 507.93,598.29 508.81,598.29 509.68,598.29 510.55,598.29 511.43,586.80 512.30,586.80 513.17,586.80 514.05,598.29 514.92,598.29 515.79,586.80 516.67,586.80 517.54,586.80 518.41,586.80 519.29,598.29 520.16,586.80 521.03,586.80 521.91,586.80 522.78,586.80 523.65,598.29 524.53,598.29 525.40,586.80 526.27,586.80 527.15,586.80 528.02,586.80 528.89,586.80 529.77,586.80 530.64,586.80 531.51,586.80 532.39,598.29 533.26,598.29 534.13,598.29 535.01,598.29 535.88,598.29 536.75,598.29 537.63,586.80 538.50,586.80 539.37,586.80 540.25,598.29 541.12,586.80 541.99,586.80 542.87,598.29 543.74,586.80 544.61,586.80 545.49,586.80 546.36,586.80 547.23,586.80 548.11,598.29 548.98,598.29 549.85,598.29 550.73,586.80 551.60,586.80 552.47,598.29 553.35,598.29 554.22,598.29 555.09,586.80 555.97,586.80 556.84,586.80 557.71,586.80 558.59,586.80 559.46,586.80 560.33,586.80 561.21,598.29 562.08,598.29 562.95,598.29 563.83,598.29 564.70,598.29 565.57,609.78 566.45,586.80 567.32,586.80 568.19,586.80 569.07,598.29 569.94,598.29 570.81,598.29 571.69,586.80 572.56,586.80 573.43,609.78 574.31,598.29 575.18,586.80 576.05,598.29 576.93,586.80 577.80,586.80 578.67,598.29 579.55,586.80 580.42,598.29 581.29,598.29 582.17,598.29 583.04,586.80 583.91,575.31 584.79,609.78 585.66,586.80 586.53,586.80 587.41,586.80 588.28,598.29 589.15,598.29 590.03,586.80 590.90,598.29 591.77,598.29 592.65,586.80 593.52,586.80 594.39,586.80 595.27,598.29 596.14,598.29 597.01,586.80 597.89,586.80 598.76,586.80 599.63,598.29 600.51,598.29 601.38,598.29 602.25,598.29 603.13,598.29 604.00,598.29 604.87,598.29 605.75,586.80 606.62,586.80 607.49,586.80 608.37,586.80 609.24,598.29 610.11,586.80 610.99,598.29 611.86,586.80 612.73,586.80 613.61,598.29 614.48,586.80 615.35,598.29 616.23,586.80 617.10,586.80 617.97,598.29 618.85,586.80 619.72,598.29 620.59,586.80 621.47,586.80 622.34,586.80 623.21,586.80 624.09,598.29 624.96,586.80 625.83,586.80 626.71,598.29 627.58,586.80 628.45,598.29 629.33,586.80 630.20,586.80 631.07,598.29 631.95,586.80 632.82,598.29 633.69,586.80 634.57,586.80 635.44,598.29 636.31,598.29 637.19,598.29 638.06,598.29 638.93,598.29 639.81,598.29 640.68,598.29 641.55,586.80 642.43,598.29 643.30,598.29 644.17,586.80 645.05,598.29 645.92,586.80 646.79,598.29 647.67,598.29 648.54,586.80 649.41,598.29 650.29,586.80 651.16,586.80 652.03,586.80 652.91,586.80 653.78,598.29 654.65,598.29 655.53,609.78 656.40,598.29 657.27,586.80 658.15,575.31 659.02,586.80 659.89,598.29 660.77,609.78 661.64,598.29 662.51,598.29 663.39,598.29 664.26,598.29 665.13,586.80 666.01,586.80 666.88,598.29 667.75,609.78 668.63,586.80 669.50,586.80 670.37,598.29 671.25,586.80 672.12,598.29 672.99,586.80 673.87,586.80 674.74,598.29 675.61,586.80 676.49,598.29 677.36,586.80 678.23,586.80 679.11,598.29 679.98,598.29 680.85,598.29 681.73,598.29 682.60,598.29 683.47,598.29 684.35,598.29 685.22,586.80 686.09,586.80 686.97,598.29 687.84,598.29 688.71,586.80 689.59,609.78 690.46,598.29 691.33,598.29 692.21,609.78 693.08,598.29 693.95,586.80 694.83,598.29 695.70,598.29 696.57,586.80 697.45,598.29 698.32,586.80 699.19,598.29 700.07,598.29 700.94,586.80 701.81,598.29 702.69,586.80 703.56,598.29 704.43,598.29 705.31,586.80 706.18,575.31 707.05,598.29 707.93,598.29 708.80,598.29 709.67,586.80 710.55,586.80 711.42,575.31 712.29,586.80 713.17,598.29 714.04,598.29 714.91,598.29 715.79,552.33 716.66,586.80 717.53,598.29 718.41,598.29 719.28,586.80 720.15,586.80 721.03,609.78 721.90,586.80 722.77,563.82 723.65,586.80 724.52,609.78 725.39,586.80 726.27,586.80 727.14,598.29 728.01,586.80 728.89,575.31 729.76,586.80 730.63,586.80 731.51,598.29 732.38,586.80 733.25,598.29 734.13,586.80 735.00,586.80 735.87,598.29 736.75,586.80 737.62,598.29 738.49,609.78 739.37,598.29 740.24,586.80 741.11,598.29 741.99,586.80 742.86,586.80 743.73,575.31 744.61,598.29 745.48,586.80 746.35,598.29 747.23,586.80 748.10,586.80 748.97,598.29 749.85,586.80 750.72,598.29 751.59,586.80 752.47,586.80 753.34,598.29 754.21,586.80 755.09,598.29 755.96,598.29 756.83,586.80 757.71,563.82 758.58,598.29 759.45,586.80 760.33,598.29 761.20,609.78 762.07,586.80 762.95,598.29 763.82,586.80 764.69,598.29 765.57,598.29 766.44,586.80 767.31,598.29 768.19,586.80 769.06,598.29 769.93,598.29 770.81,598.29 771.68,598.29 772.55,598.29 773.43,586.80 774.30,586.80 775.17,586.80 776.05,586.80 776.92,586.80 777.79,598.29 778.67,609.78 779.54,598.29 780.41,586.80 781.29,598.29 782.16,586.80 783.03,586.80 783.91,598.29 784.78,598.29 785.65,598.29 786.53,598.29 787.40,598.29 788.27,586.80 789.15,598.29 790.02,586.80 790.89,598.29 791.77,598.29 792.64,609.78 793.51,598.29 794.39,586.80 795.26,598.29 796.13,598.29 797.01,586.80 797.88,598.29 798.75,586.80 799.63,598.29 800.50,598.29 801.37,586.80 802.25,598.29 803.12,586.80 803.99,598.29 804.87,598.29 805.74,598.29 806.61,598.29 807.49,598.29 808.36,586.80 809.23,586.80 810.11,598.29 810.98,586.80 811.85,598.29 812.73,586.80 813.60,586.80 814.47,598.29 815.35,586.80 816.22,575.31 817.09,586.80 817.97,586.80 818.84,598.29 819.71,586.80 820.59,598.29 821.46,586.80 822.33,586.80 823.21,598.29 824.08,586.80 824.95,598.29 825.83,586.80 826.70,586.80 827.57,598.29 828.45,586.80 829.32,586.80 830.19,575.31 831.07,586.80 831.94,609.78 832.81,586.80 833.69,621.28 834.56,575.31 835.43,586.80 836.31,598.29 837.18,586.80 838.05,586.80 838.93,586.80 839.80,598.29 840.67,598.29 841.55,598.29 842.42,598.29 843.29,598.29 844.17,586.80 845.04,586.80 845.91,586.80 846.79,586.80 847.66,586.80 848.53,586.80 849.41,586.80 850.28,598.29 851.15,586.80 852.03,598.29 852.90,598.29 853.77,586.80 854.65,598.29 855.52,586.80 856.39,586.80 857.27,586.80 858.14,598.29 859.01,586.80 859.89,598.29 860.76,586.80 861.63,586.80 862.51,586.80 863.38,586.80 864.25,586.80 865.13,586.80 866.00,598.29 866.87,598.29 867.75,598.29 868.62,586.80 869.49,586.80 870.37,586.80 871.24,598.29 872.11,598.29 872.99,598.29 873.86,598.29 874.73,598.29 875.61,598.29 876.48,586.80 877.35,586.80 878.23,586.80 879.10,586.80 879.97,586.80 880.85,586.80 881.72,598.29 882.59,586.80 883.47,586.80 884.34,598.29 885.21,586.80 886.09,598.29 886.96,586.80 887.83,586.80 888.71,598.29 889.58,586.80 890.45,598.29 891.33,586.80 892.20,586.80 893.07,586.80 893.95,586.80 894.82,598.29 895.69,598.29 896.57,598.29 897.44,598.29 898.31,598.29 899.19,598.29 900.06,586.80 900.93,575.31 901.81,586.80 902.68,609.78 903.55,575.31 904.43,586.80 905.30,586.80 906.17,586.80 907.05,586.80 907.92,598.29 908.79,586.80 909.67,586.80 910.54,598.29 911.41,586.80 912.29,598.29 913.16,586.80 914.03,586.80 914.91,598.29 915.78,586.80 916.65,598.29 917.53,586.80 918.40,586.80 919.27,598.29 920.15,586.80 921.02,598.29 921.89,586.80 922.77,586.80 923.64,598.29 924.51,586.80 925.39,598.29 926.26,586.80 927.13,586.80 928.01,598.29 928.88,598.29 929.75,598.29 930.63,586.80 931.50,586.80 932.37,586.80 933.25,586.80 934.12,586.80 934.99,598.29 935.87,586.80 936.74,586.80 937.61,586.80 938.49,586.80 939.36,586.80 940.23,586.80 941.11,598.29 941.98,586.80 942.85,598.29 943.73,586.80 944.60,586.80 945.47,586.80 946.35,586.80 947.22,586.80 948.09,586.80 948.97,586.80 949.84,598.29 950.71,586.80 951.59,598.29 952.46,586.80 953.33,586.80 954.21,598.29 955.08,586.80 955.95,598.29 956.83,586.80 957.70,586.80 958.57,586.80 959.45,586.80 960.32,586.80 961.19,586.80 962.07,586.80 962.94,586.80 963.81,586.80 964.69,586.80 965.56,598.29 966.43,598.29 967.31,586.80 968.18,598.29 969.05,586.80 969.93,598.29 970.80,598.29 971.67,598.29 972.55,598.29 973.42,586.80 974.29,598.29 975.17,598.29 976.04,586.80 976.91,598.29 977.79,598.29 978.66,598.29 979.53,586.80 980.41,586.80 981.28,586.80 982.15,586.80 983.03,586.80 983.90,598.29 984.77,598.29 985.65,598.29 986.52,598.29 987.39,598.29 988.27,598.29 989.14,586.80 990.01,598.29 990.89,586.80 991.76,598.29 992.63,598.29 993.51,598.29 994.38,598.29 995.25,598.29 996.13,598.29 997.00,598.29 997.87,598.29 998.75,598.29 999.62,598.29 1000.49,586.80 1001.37,586.80 1002.24,586.80 1003.11,598.29 1003.99,598.29 1004.86,598.29 1005.73,598.29 1006.61,598.29 1007.48,598.29 1008.35,598.29 1009.23,598.29 1010.10,598.29 1010.97,598.29 1011.85,598.29 1012.72,598.29 1013.59,598.29 1014.47,598.29 1015.34,598.29 1016.21,598.29 1017.09,598.29 1017.96,598.29 1018.83,598.29 1019.71,598.29 1020.58,598.29 1021.45,598.29 1022.33,598.29 1023.20,598.29 1024.07,598.29 1024.95,598.29 1025.82,598.29 1026.69,598.29 1027.57,598.29 1028.44,598.29 1029.31,598.29 1030.19,598.29 1031.06,598.29 1031.93,598.29 1032.81,598.29 1033.68,598.29 1034.55,598.29 1035.43,598.29 1036.30,598.29 1037.17,598.29 1038.05,598.29 1038.92,598.29 1039.79,598.29 1040.67,598.29 1041.54,598.29 1042.41,598.29 1043.29,598.29 1044.16,598.29 1045.03,598.29 1045.91,598.29 1046.78,598.29 1047.65,598.29 1048.53,598.29 1049.40,598.29 1050.27,598.29 1051.15,598.29 1052.02,598.29 1052.89,598.29 1053.77,598.29 1054.64,598.29 1055.51,598.29 1056.39,598.29 1057.26,598.29 1058.13,598.29 1059.01,598.29 1059.88,598.29 1060.75,598.29 1061.63,598.29 1062.50,598.29 1063.37,598.29 1064.25,598.29 1065.12,598.29 1065.99,598.29 1066.87,598.29 1067.74,598.29 1068.61,598.29 1069.49,598.29 1070.36,598.29 1071.23,598.29 1072.11,598.29 1072.98,598.29 1073.85,598.29 1074.73,598.29 1075.60,598.29 1076.47,598.29 1077.35,598.29 1078.22,598.29 1079.09,598.29 1079.97,598.29 1080.84,598.29 1081.71,598.29 1082.59,598.29 1083.46,598.29 1084.33,598.29 1085.21,598.29 1086.08,598.29 1086.95,598.29 1087.83,598.29 1088.70,598.29 1089.57,598.29 1090.45,598.29 1091.32,598.29 1092.19,598.29 1093.07,598.29 1093.94,598.29 1094.81,598.29 1095.69,598.29 1096.56,598.29 1097.43,598.29 1098.31,598.29 1099.18,598.29 1100.05,598.29 1100.93,598.29 1101.80,598.29 1102.67,598.29 1103.55,598.29 1104.42,598.29 1105.29,598.29 1106.17,598.29 1107.04,598.29 1107.91,598.29 1108.79,598.29 1109.66,598.29 1110.53,598.29 1111.41,598.29 1112.28,598.29 1113.15,598.29 1114.03,598.29 1114.90,598.29 1115.77,598.29 1116.65,598.29 1117.52,598.29 1118.39,598.29 1119.27,598.29 1120.14,598.29 1121.01,598.29 1121.89,598.29 1122.76,598.29 1123.63,598.29 1124.51,598.29 1125.38,598.29 1126.25,598.29 1127.13,598.29 1128.00,598.29 1128.87,598.29 1129.75,598.29 1130.62,598.29 1131.49,598.29 1132.37,598.29 1133.24,598.29 1134.11,598.29 1134.99,598.29 1135.86,598.29 1136.73,598.29 1137.61,598.29 1138.48,598.29 1139.35,598.29 1140.23,598.29 1141.10,598.29 1141.97,598.29 1142.85,598.29 1143.72,598.29 1144.59,598.29 1145.47,598.29 1146.34,598.29 1147.21,598.29 1148.09,598.29 1148.96,598.29 1149.83,598.29 1150.71,598.29 1151.58,598.29 1152.45,598.29 1153.33,598.29 1154.20,598.29 1155.07,598.29 1155.95,598.29 1156.82,598.29 1157.69,598.29 1158.57,598.29 1159.44,598.29 1160.31,598.29 1161.19,598.29 1162.06,598.29 1162.93,598.29 1163.81,598.29 1164.68,598.29 1165.55,598.29 1166.43,598.29 1167.30,598.29 1168.17,598.29 1169.05,598.29 1169.92,598.29 1170.79,598.29 1171.67,598.29 1172.54,598.29 1173.41,598.29 1174.29,598.29 1175.16,598.29 1176.03,598.29 1176.91,598.29 1177.78,598.29 1178.65,598.29 1179.53,598.29 1180.40,598.29 1181.27,598.29 1182.15,598.29 1183.02,598.29 1183.89,598.29 1184.77,598.29 1185.64,598.29 1186.51,598.29 1187.39,598.29 1188.26,598.29 1189.13,598.29 1190.01,598.29 1190.88,598.29 1191.75,598.29 1192.63,598.29 1193.50,598.29 1194.37,598.29 1195.25,598.29 1196.12,598.29 1196.99,598.29 1197.87,598.29 1198.74,598.29 1199.61,598.29 1200.49,598.29 1201.36,598.29 1202.23,598.29 1203.11,598.29 1203.98,598.29 1204.85,598.29 1205.73,598.29 1206.60,598.29 1207.47,598.29 1208.35,598.29 1209.22,598.29 1210.09,598.29 1210.97,598.29 1211.84,598.29 1212.71,598.29 1213.59,598.29 1214.46,598.29 1215.33,598.29 1216.21,598.29 1217.08,598.29 1217.95,598.29 1218.83,598.29 1219.70,598.29 1220.57,598.29 1221.45,598.29 1222.32,598.29 1223.19,598.29 1224.07,598.29 1224.94,598.29 1225.81,598.29 1226.69,598.29 1227.56,598.29 1228.43,598.29 1229.31,598.29 1230.18,598.29 1231.05,598.29 1231.93,598.29 1232.80,598.29 1233.67,598.29 1234.55,598.29 1235.42,598.29 1236.29,598.29 1237.17,598.29 1238.04,598.29 1238.91,598.29 1239.79,598.29 1240.66,598.29 1241.53,598.29 1242.41,598.29 1243.28,598.29 1244.15,598.29 1245.03,598.29 1245.90,598.29 1246.77,598.29 1247.65,598.29 1248.52,598.29 1249.39,598.29 1250.27,598.29 1251.14,598.29 1252.01,598.29 1252.89,598.29 1253.76,598.29 1254.63,598.29 1255.51,598.29 1256.38,598.29 1257.25,598.29 1258.13,598.29 1259.00,598.29 1259.87,598.29 1260.75,598.29 1261.62,598.29 1262.49,598.29 1263.37,598.29 1264.24,598.29 1265.11,598.29 1265.99,598.29 1266.86,598.29 1267.73,598.29 1268.61,598.29 1269.48,598.29 1270.35,598.29 1271.23,598.29 1272.10,598.29 1272.97,598.29 1273.85,598.29 1274.72,598.29 1275.59,598.29 1276.47,598.29 1277.34,598.29 1278.21,598.29 1279.09,598.29 1279.96,598.29 1280.83,598.29 1281.71,598.29 1282.58,598.29 1283.45,598.29 1284.33,598.29 1285.20,598.29 1286.07,598.29 1286.95,598.29 1287.82,598.29 1288.69,598.29 1289.57,598.29 1290.44,598.29 1291.31,598.29 1292.19,598.29 1293.06,598.29 1293.93,598.29 1294.81,598.29 1295.68,598.29 1296.55,598.29 1297.43,598.29 1298.30,598.29 1299.17,598.29 1300.05,598.29 1300.92,598.29 1301.79,598.29 1302.67,598.29 1303.54,598.29 1304.41,598.29 1305.29,598.29 1306.16,598.29 1307.03,598.29 1307.91,598.29 1308.78,598.29 1309.65,598.29 1310.53,598.29 1311.40,598.29 1312.27,598.29 1313.15,598.29 1314.02,598.29 1314.89,598.29 1315.77,598.29 1316.64,598.29 1317.51,598.29 1318.39,598.29 1319.26,598.29 1320.13,598.29 1321.01,598.29 1321.88,598.29 1322.75,598.29 1323.63,598.29 1324.50,598.29 1325.37,598.29 1326.25,598.29 1327.12,598.29 1327.99,598.29 1328.87,598.29 1329.74,598.29 1330.61,598.29 1331.49,598.29 1332.36,598.29 1333.23,598.29 1334.11,598.29 1334.98,598.29 1335.85,598.29 1336.73,598.29 1337.60,598.29 1338.47,598.29 1339.35,598.29 1340.22,598.29 1341.09,598.29 1341.97,598.29 1342.84,598.29 1343.71,598.29 1344.59,598.29 1345.46,598.29 1346.33,598.29 1347.21,598.29 1348.08,598.29 1348.95,598.29 1349.83,598.29 1350.70,598.29 1351.57,598.29 1352.45,598.29 1353.32,598.29 1354.19,598.29 1355.07,598.29 1355.94,598.29 1356.81,598.29 1357.69,598.29 1358.56,598.29 1359.43,598.29 1360.31,598.29 1361.18,598.29 1362.05,598.29 1362.93,598.29 1363.80,598.29"/>
<path class="red" d="M106.5 748.5H1363.5"/>
<path class="grid" d="M158.5 862.6V517.85M211.5 862.6V517.85M263.5 862.6V517.85M315.5 862.6V517.85M368.5 862.6V517.85M420.5 862.6V517.85M473.5 862.6V517.85M525.5 862.6V517.85M577.5 862.6V517.85M630.5 862.6V517.85M682.5 862.6V517.85M735.5 862.6V517.85M787.5 862.6V517.85M839.5 862.6V517.85M892.5 862.6V517.85M944.5 862.6V517.85M997.5 862.6V517.85M1049.5 862.6V517.85M1101.5 862.6V517.85M1154.5 862.6V517.85M1206.5 862.6V517.85M1259.5 862.6V517.85M1311.5 862.6V517.85M106.5 805.5H1363.5M106.5 748.5H1363.5M106.5 690.5H1363.5M106.5 633.5H1363.5M106.5 575.5H1363.5"/>
<path class="tick" d="M106.5 862.6v-5.56M106.5 517.85v5.56M158.5 862.6v-5.56M158.5 517.85v5.56M211.5 862.6v-5.56M211.5 517.85v5.56M263.5 862.6v-5.56M263.5 517.85v5.56M315.5 862.6v-5.56M315.5 517.85v5.56M368.5 862.6v-5.56M368.5 517.85v5.56M420.5 862.6v-5.56M420.5 517.85v5.56M473.5 862.6v-5.56M473.5 517.85v5.56M525.5 862.6v-5.56M525.5 517.85v5.56M577.5 862.6v-5.56M577.5 517.85v5.56M630.5 862.6v-5.56M630.5 517.85v5.56M682.5 862.6v-5.56M682.5 517.85v5.56M735.5 862.6v-5.56M735.5 517.85v5.56M787.5 862.6v-5.56M787.5 517.85v5.56M839.5 862.6v-5.56M839.5 517.85v5.56M892.5 862.6v-5.56M892.5 517.85v5.56M944.5 862.6v-5.56M944.5 517.85v5.56M997.5 862.6v-5.56M997.5 517.85v5.56M1049.5 862.6v-5.56M1049.5 517.85v5.56M1101.5 862.6v-5.56M1101.5 517.85v5.56M1154.5 862.6v-5.56M1154.5 517.85v5.56M1206.5 862.6v-5.56M1206.5 517.85v5.56M1259.5 862.6v-5.56M1259.5 517.85v5.56M1311.5 862.6v-5.56M1311.5 517.85v5.56M1363.5 862.6v-5.56M1363.5 517.85v5.56M106.5 863.5h5.56M1363.5 863.5h-5.56M106.5 805.5h5.56M1363.5 805.5h-5.56M106.5 748.5h5.56M1363.5 748.5h-5.56M106.5 690.5h5.56M1363.5 690.5h-5.56M106.5 633.5h5.56M1363.5 633.5h-5.56M106.5 575.5h5.56M1363.5 575.5h-5.56M106.5 518.5h5.56M1363.5 518.5h-5.56"/>
<rect class="frame" x="106.5" y="518.5" width="1257.0" height="345"/>
<text class="tl" transform="translate(105.90,884.20) scale(1,0.96)" text-anchor="middle">00</text>
<text class="tl" transform="translate(158.30,884.20) scale(1,0.96)" text-anchor="middle">01</text>
<text class="tl" transform="translate(210.70,884.20) scale(1,0.96)" text-anchor="middle">02</text>
<text class="tl" transform="translate(263.10,884.20) scale(1,0.96)" text-anchor="middle">03</text>
<text class="tl" transform="translate(315.50,884.20) scale(1,0.96)" text-anchor="middle">04</text>
<text class="tl" transform="translate(367.90,884.20) scale(1,0.96)" text-anchor="middle">05</text>
<text class="tl" transform="translate(420.30,884.20) scale(1,0.96)" text-anchor="middle">06</text>
<text class="tl" transform="translate(472.70,884.20) scale(1,0.96)" text-anchor="middle">07</text>
<text class="tl" transform="translate(525.10,884.20) scale(1,0.96)" text-anchor="middle">08</text>
<text class="tl" transform="translate(577.50,884.20) scale(1,0.96)" text-anchor="middle">09</text>
<text class="tl" transform="translate(629.90,884.20) scale(1,0.96)" text-anchor="middle">10</text>
<text class="tl" transform="translate(682.30,884.20) scale(1,0.96)" text-anchor="middle">11</text>
<text class="tl" transform="translate(734.70,884.20) scale(1,0.96)" text-anchor="middle">12</text>
<text class="tl" transform="translate(787.10,884.20) scale(1,0.96)" text-anchor="middle">13</text>
<text class="tl" transform="translate(839.50,884.20) scale(1,0.96)" text-anchor="middle">14</text>
<text class="tl" transform="translate(891.90,884.20) scale(1,0.96)" text-anchor="middle">15</text>
<text class="tl" transform="translate(944.30,884.20) scale(1,0.96)" text-anchor="middle">16</text>
<text class="tl" transform="translate(996.70,884.20) scale(1,0.96)" text-anchor="middle">17</text>
<text class="tl" transform="translate(1049.10,884.20) scale(1,0.96)" text-anchor="middle">18</text>
<text class="tl" transform="translate(1101.50,884.20) scale(1,0.96)" text-anchor="middle">19</text>
<text class="tl" transform="translate(1153.90,884.20) scale(1,0.96)" text-anchor="middle">20</text>
<text class="tl" transform="translate(1206.30,884.20) scale(1,0.96)" text-anchor="middle">21</text>
<text class="tl" transform="translate(1258.70,884.20) scale(1,0.96)" text-anchor="middle">22</text>
<text class="tl" transform="translate(1311.10,884.20) scale(1,0.96)" text-anchor="middle">23</text>
<text class="tl" transform="translate(1363.50,884.20) scale(1,0.96)" text-anchor="middle">00</text>
<text class="tl" transform="translate(100.6,869.05) scale(1,0.96)" text-anchor="end">70</text>
<text class="tl" transform="translate(100.6,811.05) scale(1,0.96)" text-anchor="end">75</text>
<text class="tl" transform="translate(100.6,754.05) scale(1,0.96)" text-anchor="end">80</text>
<text class="tl" transform="translate(100.6,696.05) scale(1,0.96)" text-anchor="end">85</text>
<text class="tl" transform="translate(100.6,639.05) scale(1,0.96)" text-anchor="end">90</text>
<text class="tl" transform="translate(100.6,581.05) scale(1,0.96)" text-anchor="end">95</text>
<text class="tl" transform="translate(100.6,524.05) scale(1,0.96)" text-anchor="end">100</text>
<text class="title" transform="translate(735.5,42.3) scale(1,0.96)" text-anchor="middle">First time: 2026-03-13 00:01:00</text>
<text class="title" transform="translate(735.5,72.5) scale(1,0.96)" text-anchor="middle">Last time: 2026-03-14 00:00:00</text>
<text class="lab" transform="translate(735,473.3) scale(1,0.96)" text-anchor="middle">Hour (UTC)</text>
<text class="lab" transform="translate(735,909.4) scale(1,0.96)" text-anchor="middle">Hour (UTC)</text>
<text class="lab" transform="translate(42,252.3) rotate(-90) scale(1,0.96)" text-anchor="middle">Laser temperature (C)</text>
<text class="lab" transform="translate(49.5,690.2) rotate(-90) scale(1,0.96)" text-anchor="middle">LIDAR window transmission (%)</text>
<rect class="legbox" x="1116.5" y="89.5" width="238" height="53.5"/>
<path class="legl" d="M1122.9 117.5H1161"/>
<text class="leg" transform="translate(1175,110.5) scale(1,0.96)">Laser temperature</text>
<text class="leg" transform="translate(1175,130.5) scale(1,0.96)">(40 C)</text>
<rect class="legbox" x="115.5" y="752.5" width="197" height="101.8"/>
<path class="legl" d="M122 790.2H160"/>
<text class="leg" transform="translate(174,773) scale(1,0.96)">LIDAR window</text>
<text class="leg" transform="translate(174,793.5) scale(1,0.96)">transmission</text>
<text class="leg" transform="translate(173.5,814) scale(1,0.96)">(93%)</text>
<path class="red" d="M121.3 836.2H161"/>
<text class="leg" transform="translate(173.4,841.8) scale(1,0.96)">80%</text>
<text class="lab" transform="translate(292,957.2) scale(1,0.96)">Copyright: Szechenyi Istvan Geophysical Observatory (NCK,</text>
<text class="math" font-size="22.2" x="966.0" y="957.2">47</text>
<text class="math" font-size="16.3" font-style="italic" x="989.2" y="948.3000000000001">o</text>
<text class="math" font-size="22.2" x="1010.3" y="957.2">38</text>
<text class="lab" transform="translate(1031.0,957.2) scale(1,0.96)">'</text>
<text class="lab" transform="translate(1045.2,957.2) scale(1,0.96)">N,</text>
<text class="math" font-size="22.2" x="1077.0" y="957.2">16</text>
<text class="math" font-size="16.3" font-style="italic" x="1099.0" y="948.3000000000001">o</text>
<text class="math" font-size="22.2" x="1119.6" y="957.2">43</text>
<text class="lab" transform="translate(1140.6,957.2) scale(1,0.96)">'</text>
<text class="lab" transform="translate(1155.4,957.2) scale(1,0.96)">E)</text>
</svg></body></html>
